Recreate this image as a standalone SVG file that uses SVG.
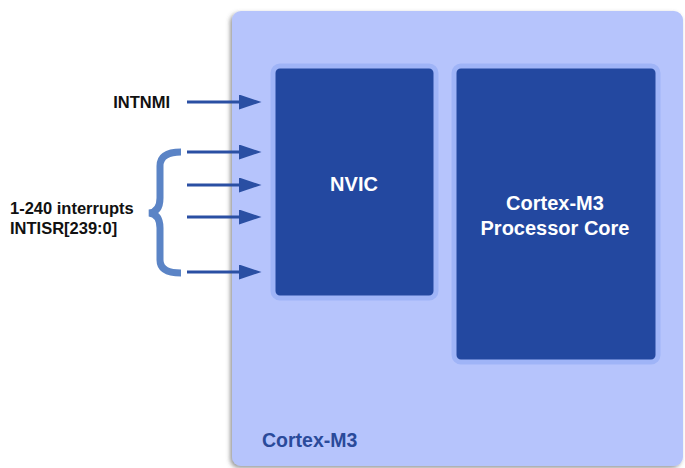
<svg xmlns="http://www.w3.org/2000/svg" width="685" height="468" viewBox="0 0 685 468">
<defs>
<style>
.lbl{font-family:"Liberation Sans",Arial,sans-serif;font-weight:bold;font-size:16.5px;fill:#111}
.wt{font-family:"Liberation Sans",Arial,sans-serif;font-weight:bold;font-size:20px;fill:#fff;text-anchor:middle}
.blk{fill:#2348a0;stroke:#9fb4f7;stroke-width:5}
.arr{stroke:#2a4fa3;stroke-width:3;fill:none;marker-end:url(#ah)}
</style>
<marker id="ah" markerWidth="7.5" markerHeight="5" refX="1" refY="2.5" orient="auto" markerUnits="strokeWidth">
<path d="M0,0 L7.5,2.5 L0,5 z" fill="#2a4fa3"/>
</marker>
<filter id="sh" x="-5%" y="-5%" width="110%" height="110%">
<feDropShadow dx="-2" dy="2" stdDeviation="2" flood-color="#555" flood-opacity="0.6"/>
</filter>
</defs>
<g id="cortex">
<rect x="232" y="11" width="451" height="455" rx="9" fill="#b6c4fc" filter="url(#sh)"/>
<text x="262" y="447" style="font-family:'Liberation Sans',Arial,sans-serif;font-weight:bold;font-size:19.5px;fill:#2a4a9a">Cortex-M3</text>
</g>
<g id="nvic">
<rect class="blk" x="273" y="66" width="163" height="232" rx="7"/>
<text class="wt" x="354" y="191">NVIC</text>
</g>
<g id="core">
<rect class="blk" x="454" y="66" width="204" height="296" rx="7"/>
<text class="wt" x="555" y="210">Cortex-M3</text>
<text class="wt" x="555" y="235">Processor Core</text>
</g>
<g id="labels">
<text class="lbl" x="170" y="108" text-anchor="end">INTNMI</text>
<text class="lbl" x="10" y="214">1-240 interrupts</text>
<text class="lbl" x="10" y="234">INTISR[239:0]</text>
<path d="M181,152 Q160,152 160,166 L160,198 Q160,212 149,213 Q160,214 160,228 L160,260 Q160,273 181,273" fill="none" stroke="#5b84c6" stroke-width="7"/>
</g>
<g id="connectors">
<line class="arr" x1="187" y1="102" x2="242" y2="102"/>
<line class="arr" x1="187" y1="152" x2="242" y2="152"/>
<line class="arr" x1="187" y1="185" x2="242" y2="185"/>
<line class="arr" x1="187" y1="217" x2="242" y2="217"/>
<line class="arr" x1="187" y1="272" x2="242" y2="272"/>
</g>
</svg>
